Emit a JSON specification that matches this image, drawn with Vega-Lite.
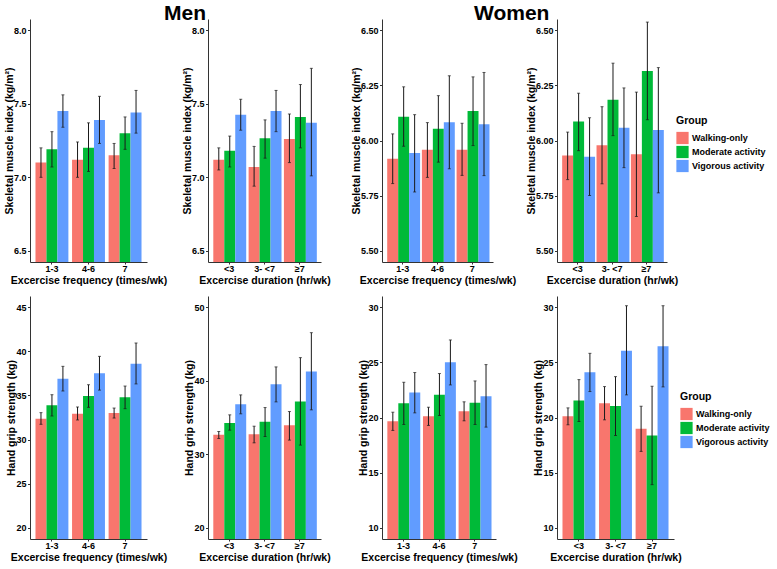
{
 "$schema": "https://vega.github.io/schema/vega-lite/v6.json",
 "padding": {"left": 4, "top": 3, "right": 0, "bottom": 0},
 "background": "white",
 "datasets": {
  "p1": [
   {"cat": "1-3", "group": "Walking-only", "mean": 7.10, "lo": 7.00, "hi": 7.20},
   {"cat": "1-3", "group": "Moderate activity", "mean": 7.19, "lo": 7.07, "hi": 7.31},
   {"cat": "1-3", "group": "Vigorous activity", "mean": 7.45, "lo": 7.34, "hi": 7.56},
   {"cat": "4-6", "group": "Walking-only", "mean": 7.12, "lo": 7.00, "hi": 7.24},
   {"cat": "4-6", "group": "Moderate activity", "mean": 7.20, "lo": 7.04, "hi": 7.37},
   {"cat": "4-6", "group": "Vigorous activity", "mean": 7.39, "lo": 7.23, "hi": 7.55},
   {"cat": "7", "group": "Walking-only", "mean": 7.15, "lo": 7.06, "hi": 7.23},
   {"cat": "7", "group": "Moderate activity", "mean": 7.30, "lo": 7.19, "hi": 7.41},
   {"cat": "7", "group": "Vigorous activity", "mean": 7.44, "lo": 7.30, "hi": 7.59}
  ],
  "p2": [
   {"cat": "<3", "group": "Walking-only", "mean": 7.12, "lo": 7.05, "hi": 7.20},
   {"cat": "<3", "group": "Moderate activity", "mean": 7.18, "lo": 7.07, "hi": 7.28},
   {"cat": "<3", "group": "Vigorous activity", "mean": 7.425, "lo": 7.32, "hi": 7.53},
   {"cat": "3- <7", "group": "Walking-only", "mean": 7.07, "lo": 6.94, "hi": 7.21},
   {"cat": "3- <7", "group": "Moderate activity", "mean": 7.265, "lo": 7.13, "hi": 7.39},
   {"cat": "3- <7", "group": "Vigorous activity", "mean": 7.45, "lo": 7.31, "hi": 7.59},
   {"cat": "≥7", "group": "Walking-only", "mean": 7.26, "lo": 7.10, "hi": 7.43},
   {"cat": "≥7", "group": "Moderate activity", "mean": 7.41, "lo": 7.20, "hi": 7.63},
   {"cat": "≥7", "group": "Vigorous activity", "mean": 7.37, "lo": 7.01, "hi": 7.74}
  ],
  "p3": [
   {"cat": "1-3", "group": "Walking-only", "mean": 5.917, "lo": 5.805, "hi": 6.03},
   {"cat": "1-3", "group": "Moderate activity", "mean": 6.108, "lo": 5.974, "hi": 6.243},
   {"cat": "1-3", "group": "Vigorous activity", "mean": 5.943, "lo": 5.767, "hi": 6.117},
   {"cat": "4-6", "group": "Walking-only", "mean": 5.958, "lo": 5.833, "hi": 6.081},
   {"cat": "4-6", "group": "Moderate activity", "mean": 6.053, "lo": 5.902, "hi": 6.203},
   {"cat": "4-6", "group": "Vigorous activity", "mean": 6.083, "lo": 5.872, "hi": 6.293},
   {"cat": "7", "group": "Walking-only", "mean": 5.958, "lo": 5.842, "hi": 6.078},
   {"cat": "7", "group": "Moderate activity", "mean": 6.134, "lo": 5.977, "hi": 6.288},
   {"cat": "7", "group": "Vigorous activity", "mean": 6.074, "lo": 5.841, "hi": 6.308}
  ],
  "p4": [
   {"cat": "<3", "group": "Walking-only", "mean": 5.932, "lo": 5.823, "hi": 6.038},
   {"cat": "<3", "group": "Moderate activity", "mean": 6.086, "lo": 5.954, "hi": 6.214},
   {"cat": "<3", "group": "Vigorous activity", "mean": 5.926, "lo": 5.751, "hi": 6.103},
   {"cat": "3- <7", "group": "Walking-only", "mean": 5.978, "lo": 5.804, "hi": 6.153},
   {"cat": "3- <7", "group": "Moderate activity", "mean": 6.184, "lo": 6.022, "hi": 6.35},
   {"cat": "3- <7", "group": "Vigorous activity", "mean": 6.058, "lo": 5.877, "hi": 6.238},
   {"cat": "≥7", "group": "Walking-only", "mean": 5.938, "lo": 5.656, "hi": 6.219},
   {"cat": "≥7", "group": "Moderate activity", "mean": 6.315, "lo": 6.094, "hi": 6.536},
   {"cat": "≥7", "group": "Vigorous activity", "mean": 6.047, "lo": 5.763, "hi": 6.33}
  ],
  "p5": [
   {"cat": "1-3", "group": "Walking-only", "mean": 32.37, "lo": 31.73, "hi": 33.05},
   {"cat": "1-3", "group": "Moderate activity", "mean": 33.88, "lo": 32.67, "hi": 35.08},
   {"cat": "1-3", "group": "Vigorous activity", "mean": 36.89, "lo": 35.5, "hi": 38.29},
   {"cat": "4-6", "group": "Walking-only", "mean": 32.93, "lo": 32.22, "hi": 33.69},
   {"cat": "4-6", "group": "Moderate activity", "mean": 34.93, "lo": 33.65, "hi": 36.21},
   {"cat": "4-6", "group": "Vigorous activity", "mean": 37.5, "lo": 35.6, "hi": 39.42},
   {"cat": "7", "group": "Walking-only", "mean": 33.0, "lo": 32.44, "hi": 33.57},
   {"cat": "7", "group": "Moderate activity", "mean": 34.8, "lo": 33.5, "hi": 36.06},
   {"cat": "7", "group": "Vigorous activity", "mean": 38.59, "lo": 36.3, "hi": 40.93}
  ],
  "p6": [
   {"cat": "<3", "group": "Walking-only", "mean": 32.65, "lo": 32.15, "hi": 33.1},
   {"cat": "<3", "group": "Moderate activity", "mean": 34.27, "lo": 33.28, "hi": 35.36},
   {"cat": "<3", "group": "Vigorous activity", "mean": 36.8, "lo": 35.5, "hi": 38.07},
   {"cat": "3- <7", "group": "Walking-only", "mean": 32.74, "lo": 31.56, "hi": 33.82},
   {"cat": "3- <7", "group": "Moderate activity", "mean": 34.41, "lo": 32.42, "hi": 36.35},
   {"cat": "3- <7", "group": "Vigorous activity", "mean": 39.52, "lo": 37.12, "hi": 41.87},
   {"cat": "≥7", "group": "Walking-only", "mean": 33.96, "lo": 31.93, "hi": 35.81},
   {"cat": "≥7", "group": "Moderate activity", "mean": 37.17, "lo": 31.25, "hi": 43.13},
   {"cat": "≥7", "group": "Vigorous activity", "mean": 41.23, "lo": 36.04, "hi": 46.52}
  ],
  "p7": [
   {"cat": "1-3", "group": "Walking-only", "mean": 19.67, "lo": 18.83, "hi": 20.48},
   {"cat": "1-3", "group": "Moderate activity", "mean": 21.3, "lo": 19.37, "hi": 23.19},
   {"cat": "1-3", "group": "Vigorous activity", "mean": 22.26, "lo": 20.42, "hi": 24.07},
   {"cat": "4-6", "group": "Walking-only", "mean": 20.12, "lo": 19.28, "hi": 20.93},
   {"cat": "4-6", "group": "Moderate activity", "mean": 22.05, "lo": 20.18, "hi": 23.98},
   {"cat": "4-6", "group": "Vigorous activity", "mean": 25.0, "lo": 22.95, "hi": 27.02},
   {"cat": "7", "group": "Walking-only", "mean": 20.57, "lo": 19.70, "hi": 21.42},
   {"cat": "7", "group": "Moderate activity", "mean": 21.33, "lo": 19.37, "hi": 23.31},
   {"cat": "7", "group": "Vigorous activity", "mean": 21.93, "lo": 19.13, "hi": 24.79}
  ],
  "p8": [
   {"cat": "<3", "group": "Walking-only", "mean": 20.12, "lo": 19.34, "hi": 20.87},
   {"cat": "<3", "group": "Moderate activity", "mean": 21.54, "lo": 19.64, "hi": 23.43},
   {"cat": "<3", "group": "Vigorous activity", "mean": 24.1, "lo": 22.35, "hi": 25.81},
   {"cat": "3- <7", "group": "Walking-only", "mean": 21.3, "lo": 19.79, "hi": 22.8},
   {"cat": "3- <7", "group": "Moderate activity", "mean": 21.05, "lo": 18.37, "hi": 23.7},
   {"cat": "3- <7", "group": "Vigorous activity", "mean": 26.05, "lo": 22.05, "hi": 30.12},
   {"cat": "≥7", "group": "Walking-only", "mean": 18.98, "lo": 16.93, "hi": 21.02},
   {"cat": "≥7", "group": "Moderate activity", "mean": 18.37, "lo": 13.92, "hi": 22.83},
   {"cat": "≥7", "group": "Vigorous activity", "mean": 26.45, "lo": 22.77, "hi": 30.12}
  ]
 },
 "config": {
  "view": {"stroke": null},
  "font": "Liberation Sans",
  "axis": {"grid": false, "domainColor": "#333333", "domainWidth": 1, "tickColor": "#333333", "tickSize": 2.5, "labelColor": "#000000", "labelFont": "Liberation Sans", "labelFontWeight": "bold", "labelFontSize": 9, "labelPadding": 1.5, "titleFont": "Liberation Sans", "titleFontWeight": "bold", "titleFontSize": 10.5, "titleColor": "#000000"},
  "axisX": {"labelAngle": 0, "titlePadding": 1.5, "labelPadding": 0.5, "tickSize": 2},
  "axisY": {"titlePadding": -1},
  "legend": {"titleFont": "Liberation Sans", "titleFontSize": 10.5, "titleFontWeight": "bold", "titleColor": "#000000", "labelFont": "Liberation Sans", "labelFontSize": 9, "labelFontWeight": "bold", "labelColor": "#000000", "symbolType": "square", "symbolSize": 150, "symbolStrokeWidth": 0, "symbolOpacity": 1, "rowPadding": 1, "titlePadding": 5, "labelOffset": 3},
  "title": {"font": "Liberation Sans", "fontSize": 21, "fontWeight": "bold", "color": "#000000", "anchor": "start", "frame": "group", "offset": -5}
 },
 "resolve": {"scale": {"color": "independent"}, "legend": {"color": "independent"}},
 "bounds": "flush",
 "align": "each",
 "columns": 4,
 "spacing": {"row": 34, "column": 61},
 "concat": [
  {
   "width": 117, "height": 243,
   "data": {"name": "p1"},
   "encoding": {
    "x": {"field": "cat", "type": "nominal", "sort": ["1-3", "4-6", "7"], "scale": {"paddingInner": 0.1, "paddingOuter": 0.15}, "title": "Excercise frequency (times/wk)"},
    "xOffset": {"field": "group", "type": "nominal", "sort": ["Walking-only", "Moderate activity", "Vigorous activity"], "scale": {"paddingInner": 0, "paddingOuter": 0}}
   },
   "layer": [
    {"mark": {"type": "bar", "clip": true}, "encoding": {"y": {"field": "mean", "type": "quantitative", "scale": {"domain": [6.425, 8.075], "nice": false, "zero": false}, "axis": {"values": [6.5, 7, 7.5, 8], "format": ".1f"}, "title": "Skeletal muscle index (kg/m²)"}, "color": {"field": "group", "type": "nominal", "scale": {"domain": ["Walking-only", "Moderate activity", "Vigorous activity"], "range": ["#F8766D", "#00BA38", "#619CFF"]}, "legend": null}}},
    {"mark": {"type": "rule", "color": "#1a1a1a", "strokeWidth": 1}, "encoding": {"y": {"field": "lo", "type": "quantitative", "scale": {"domain": [6.425, 8.075], "nice": false, "zero": false}}, "y2": {"field": "hi"}}},
    {"mark": {"type": "tick", "color": "#1a1a1a", "size": 3, "thickness": 1}, "encoding": {"y": {"field": "lo", "type": "quantitative", "scale": {"domain": [6.425, 8.075], "nice": false, "zero": false}}}},
    {"mark": {"type": "tick", "color": "#1a1a1a", "size": 3, "thickness": 1}, "encoding": {"y": {"field": "hi", "type": "quantitative", "scale": {"domain": [6.425, 8.075], "nice": false, "zero": false}}}}
   ]
  },
  {
   "width": 113, "height": 243,
   "title": {"text": "Men", "dx": -44},
   "data": {"name": "p2"},
   "encoding": {
    "x": {"field": "cat", "type": "nominal", "sort": ["<3", "3- <7", "≥7"], "scale": {"paddingInner": 0.1, "paddingOuter": 0.15}, "title": "Excercise duration (hr/wk)"},
    "xOffset": {"field": "group", "type": "nominal", "sort": ["Walking-only", "Moderate activity", "Vigorous activity"], "scale": {"paddingInner": 0, "paddingOuter": 0}}
   },
   "layer": [
    {"mark": {"type": "bar", "clip": true}, "encoding": {"y": {"field": "mean", "type": "quantitative", "scale": {"domain": [6.425, 8.075], "nice": false, "zero": false}, "axis": {"values": [6.5, 7, 7.5, 8], "format": ".1f"}, "title": "Skeletal muscle index (kg/m²)"}, "color": {"field": "group", "type": "nominal", "scale": {"domain": ["Walking-only", "Moderate activity", "Vigorous activity"], "range": ["#F8766D", "#00BA38", "#619CFF"]}, "legend": null}}},
    {"mark": {"type": "rule", "color": "#1a1a1a", "strokeWidth": 1}, "encoding": {"y": {"field": "lo", "type": "quantitative", "scale": {"domain": [6.425, 8.075], "nice": false, "zero": false}}, "y2": {"field": "hi"}}},
    {"mark": {"type": "tick", "color": "#1a1a1a", "size": 3, "thickness": 1}, "encoding": {"y": {"field": "lo", "type": "quantitative", "scale": {"domain": [6.425, 8.075], "nice": false, "zero": false}}}},
    {"mark": {"type": "tick", "color": "#1a1a1a", "size": 3, "thickness": 1}, "encoding": {"y": {"field": "hi", "type": "quantitative", "scale": {"domain": [6.425, 8.075], "nice": false, "zero": false}}}}
   ]
  },
  {
   "width": 111, "height": 243,
   "data": {"name": "p3"},
   "encoding": {
    "x": {"field": "cat", "type": "nominal", "sort": ["1-3", "4-6", "7"], "scale": {"paddingInner": 0.1, "paddingOuter": 0.15}, "title": "Excercise frequency (times/wk)"},
    "xOffset": {"field": "group", "type": "nominal", "sort": ["Walking-only", "Moderate activity", "Vigorous activity"], "scale": {"paddingInner": 0, "paddingOuter": 0}}
   },
   "layer": [
    {"mark": {"type": "bar", "clip": true}, "encoding": {"y": {"field": "mean", "type": "quantitative", "scale": {"domain": [5.45, 6.55], "nice": false, "zero": false}, "axis": {"values": [5.5, 5.75, 6, 6.25, 6.5], "format": ".2f"}, "title": "Skeletal muscle index (kg/m²)"}, "color": {"field": "group", "type": "nominal", "scale": {"domain": ["Walking-only", "Moderate activity", "Vigorous activity"], "range": ["#F8766D", "#00BA38", "#619CFF"]}, "legend": null}}},
    {"mark": {"type": "rule", "color": "#1a1a1a", "strokeWidth": 1}, "encoding": {"y": {"field": "lo", "type": "quantitative", "scale": {"domain": [5.45, 6.55], "nice": false, "zero": false}}, "y2": {"field": "hi"}}},
    {"mark": {"type": "tick", "color": "#1a1a1a", "size": 3, "thickness": 1}, "encoding": {"y": {"field": "lo", "type": "quantitative", "scale": {"domain": [5.45, 6.55], "nice": false, "zero": false}}}},
    {"mark": {"type": "tick", "color": "#1a1a1a", "size": 3, "thickness": 1}, "encoding": {"y": {"field": "hi", "type": "quantitative", "scale": {"domain": [5.45, 6.55], "nice": false, "zero": false}}}}
   ]
  },
  {
   "width": 110, "height": 243,
   "title": {"text": "Women", "dx": -83},
   "data": {"name": "p4"},
   "encoding": {
    "x": {"field": "cat", "type": "nominal", "sort": ["<3", "3- <7", "≥7"], "scale": {"paddingInner": 0.1, "paddingOuter": 0.15}, "title": "Excercise duration (hr/wk)"},
    "xOffset": {"field": "group", "type": "nominal", "sort": ["Walking-only", "Moderate activity", "Vigorous activity"], "scale": {"paddingInner": 0, "paddingOuter": 0}}
   },
   "layer": [
    {"mark": {"type": "bar", "clip": true}, "encoding": {"y": {"field": "mean", "type": "quantitative", "scale": {"domain": [5.45, 6.55], "nice": false, "zero": false}, "axis": {"values": [5.5, 5.75, 6, 6.25, 6.5], "format": ".2f"}, "title": "Skeletal muscle index (kg/m²)"}, "color": {"field": "group", "type": "nominal", "scale": {"domain": ["Walking-only", "Moderate activity", "Vigorous activity"], "range": ["#F8766D", "#00BA38", "#619CFF"]}, "legend": {"title": "Group", "orient": "none", "legendX": 119, "legendY": 97}}}},
    {"mark": {"type": "rule", "color": "#1a1a1a", "strokeWidth": 1}, "encoding": {"y": {"field": "lo", "type": "quantitative", "scale": {"domain": [5.45, 6.55], "nice": false, "zero": false}}, "y2": {"field": "hi"}}},
    {"mark": {"type": "tick", "color": "#1a1a1a", "size": 3, "thickness": 1}, "encoding": {"y": {"field": "lo", "type": "quantitative", "scale": {"domain": [5.45, 6.55], "nice": false, "zero": false}}}},
    {"mark": {"type": "tick", "color": "#1a1a1a", "size": 3, "thickness": 1}, "encoding": {"y": {"field": "hi", "type": "quantitative", "scale": {"domain": [5.45, 6.55], "nice": false, "zero": false}}}}
   ]
  },
  {
   "width": 117, "height": 243,
   "data": {"name": "p5"},
   "encoding": {
    "x": {"field": "cat", "type": "nominal", "sort": ["1-3", "4-6", "7"], "scale": {"paddingInner": 0.1, "paddingOuter": 0.15}, "title": "Excercise frequency (times/wk)"},
    "xOffset": {"field": "group", "type": "nominal", "sort": ["Walking-only", "Moderate activity", "Vigorous activity"], "scale": {"paddingInner": 0, "paddingOuter": 0}}
   },
   "layer": [
    {"mark": {"type": "bar", "clip": true}, "encoding": {"y": {"field": "mean", "type": "quantitative", "scale": {"domain": [18.75, 46.25], "nice": false, "zero": false}, "axis": {"values": [20, 25, 30, 35, 40, 45]}, "title": "Hand grip strength (kg)"}, "color": {"field": "group", "type": "nominal", "scale": {"domain": ["Walking-only", "Moderate activity", "Vigorous activity"], "range": ["#F8766D", "#00BA38", "#619CFF"]}, "legend": null}}},
    {"mark": {"type": "rule", "color": "#1a1a1a", "strokeWidth": 1}, "encoding": {"y": {"field": "lo", "type": "quantitative", "scale": {"domain": [18.75, 46.25], "nice": false, "zero": false}}, "y2": {"field": "hi"}}},
    {"mark": {"type": "tick", "color": "#1a1a1a", "size": 3, "thickness": 1}, "encoding": {"y": {"field": "lo", "type": "quantitative", "scale": {"domain": [18.75, 46.25], "nice": false, "zero": false}}}},
    {"mark": {"type": "tick", "color": "#1a1a1a", "size": 3, "thickness": 1}, "encoding": {"y": {"field": "hi", "type": "quantitative", "scale": {"domain": [18.75, 46.25], "nice": false, "zero": false}}}}
   ]
  },
  {
   "width": 113, "height": 243,
   "data": {"name": "p6"},
   "encoding": {
    "x": {"field": "cat", "type": "nominal", "sort": ["<3", "3- <7", "≥7"], "scale": {"paddingInner": 0.1, "paddingOuter": 0.15}, "title": "Excercise duration (hr/wk)"},
    "xOffset": {"field": "group", "type": "nominal", "sort": ["Walking-only", "Moderate activity", "Vigorous activity"], "scale": {"paddingInner": 0, "paddingOuter": 0}}
   },
   "layer": [
    {"mark": {"type": "bar", "clip": true}, "encoding": {"y": {"field": "mean", "type": "quantitative", "scale": {"domain": [18.5, 51.5], "nice": false, "zero": false}, "axis": {"values": [20, 30, 40, 50]}, "title": "Hand grip strength (kg)"}, "color": {"field": "group", "type": "nominal", "scale": {"domain": ["Walking-only", "Moderate activity", "Vigorous activity"], "range": ["#F8766D", "#00BA38", "#619CFF"]}, "legend": null}}},
    {"mark": {"type": "rule", "color": "#1a1a1a", "strokeWidth": 1}, "encoding": {"y": {"field": "lo", "type": "quantitative", "scale": {"domain": [18.5, 51.5], "nice": false, "zero": false}}, "y2": {"field": "hi"}}},
    {"mark": {"type": "tick", "color": "#1a1a1a", "size": 3, "thickness": 1}, "encoding": {"y": {"field": "lo", "type": "quantitative", "scale": {"domain": [18.5, 51.5], "nice": false, "zero": false}}}},
    {"mark": {"type": "tick", "color": "#1a1a1a", "size": 3, "thickness": 1}, "encoding": {"y": {"field": "hi", "type": "quantitative", "scale": {"domain": [18.5, 51.5], "nice": false, "zero": false}}}}
   ]
  },
  {
   "width": 114, "height": 243,
   "data": {"name": "p7"},
   "encoding": {
    "x": {"field": "cat", "type": "nominal", "sort": ["1-3", "4-6", "7"], "scale": {"paddingInner": 0.1, "paddingOuter": 0.15}, "title": "Excercise frequency (times/wk)"},
    "xOffset": {"field": "group", "type": "nominal", "sort": ["Walking-only", "Moderate activity", "Vigorous activity"], "scale": {"paddingInner": 0, "paddingOuter": 0}}
   },
   "layer": [
    {"mark": {"type": "bar", "clip": true}, "encoding": {"y": {"field": "mean", "type": "quantitative", "scale": {"domain": [9, 31], "nice": false, "zero": false}, "axis": {"values": [10, 15, 20, 25, 30]}, "title": "Hand grip strength (kg)"}, "color": {"field": "group", "type": "nominal", "scale": {"domain": ["Walking-only", "Moderate activity", "Vigorous activity"], "range": ["#F8766D", "#00BA38", "#619CFF"]}, "legend": null}}},
    {"mark": {"type": "rule", "color": "#1a1a1a", "strokeWidth": 1}, "encoding": {"y": {"field": "lo", "type": "quantitative", "scale": {"domain": [9, 31], "nice": false, "zero": false}}, "y2": {"field": "hi"}}},
    {"mark": {"type": "tick", "color": "#1a1a1a", "size": 3, "thickness": 1}, "encoding": {"y": {"field": "lo", "type": "quantitative", "scale": {"domain": [9, 31], "nice": false, "zero": false}}}},
    {"mark": {"type": "tick", "color": "#1a1a1a", "size": 3, "thickness": 1}, "encoding": {"y": {"field": "hi", "type": "quantitative", "scale": {"domain": [9, 31], "nice": false, "zero": false}}}}
   ]
  },
  {
   "width": 117, "height": 243,
   "data": {"name": "p8"},
   "encoding": {
    "x": {"field": "cat", "type": "nominal", "sort": ["<3", "3- <7", "≥7"], "scale": {"paddingInner": 0.1, "paddingOuter": 0.15}, "title": "Excercise duration (hr/wk)"},
    "xOffset": {"field": "group", "type": "nominal", "sort": ["Walking-only", "Moderate activity", "Vigorous activity"], "scale": {"paddingInner": 0, "paddingOuter": 0}}
   },
   "layer": [
    {"mark": {"type": "bar", "clip": true}, "encoding": {"y": {"field": "mean", "type": "quantitative", "scale": {"domain": [9, 31], "nice": false, "zero": false}, "axis": {"values": [10, 15, 20, 25, 30]}, "title": "Hand grip strength (kg)"}, "color": {"field": "group", "type": "nominal", "scale": {"domain": ["Walking-only", "Moderate activity", "Vigorous activity"], "range": ["#F8766D", "#00BA38", "#619CFF"]}, "legend": {"title": "Group", "orient": "none", "legendX": 123, "legendY": 96}}}},
    {"mark": {"type": "rule", "color": "#1a1a1a", "strokeWidth": 1}, "encoding": {"y": {"field": "lo", "type": "quantitative", "scale": {"domain": [9, 31], "nice": false, "zero": false}}, "y2": {"field": "hi"}}},
    {"mark": {"type": "tick", "color": "#1a1a1a", "size": 3, "thickness": 1}, "encoding": {"y": {"field": "lo", "type": "quantitative", "scale": {"domain": [9, 31], "nice": false, "zero": false}}}},
    {"mark": {"type": "tick", "color": "#1a1a1a", "size": 3, "thickness": 1}, "encoding": {"y": {"field": "hi", "type": "quantitative", "scale": {"domain": [9, 31], "nice": false, "zero": false}}}}
   ]
  }
 ]
}
